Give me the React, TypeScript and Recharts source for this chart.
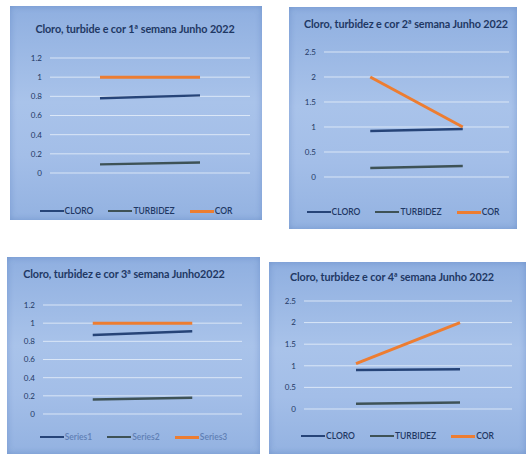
import React from 'react';
import { LineChart, Line, XAxis, YAxis, CartesianGrid } from 'recharts';

// two readings per week (start / end)
const points = ['A', 'B'];

const titles = [
  'Cloro, turbide e cor 1ª semana Junho 2022',
  'Cloro, turbidez e cor 2ª semana Junho 2022',
  'Cloro, turbidez e cor 3ª semana Junho2022',
  'Cloro, turbidez e cor 4ª semana Junho 2022',
];

const names = ['CLORO', 'TURBIDEZ', 'COR'];
const namesWeek3 = ['Series1', 'Series2', 'Series3'];

const cloro = [
  [0.78, 0.81],
  [0.92, 0.96],
  [0.87, 0.91],
  [0.9, 0.92],
];
const turbidez = [
  [0.09, 0.11],
  [0.18, 0.22],
  [0.16, 0.18],
  [0.12, 0.15],
];
const cor = [
  [1, 1],
  [2, 1],
  [1, 1],
  [1.05, 2],
];

const ticksSmall = [0, 0.2, 0.4, 0.6, 0.8, 1, 1.2];
const ticksLarge = [0, 0.5, 1, 1.5, 2, 2.5];

const colors = ['#264478', '#3e5256', '#ed7d31'];

const panels = [
  { x: 10, y: 6, w: 252, h: 214, left: 40, right: 12, top: 52, bottom: 167, titleY: 24, titleX: 125, legendY: 206, ticks: ticksSmall },
  { x: 289, y: 7, w: 228, h: 222, left: 35, right: 8, top: 45, bottom: 170, titleY: 18, titleX: 117, legendY: 206, ticks: ticksLarge },
  { x: 7, y: 257, w: 253, h: 197, left: 36, right: 18, top: 48, bottom: 157, titleY: 18, titleX: 117, legendY: 181, ticks: ticksSmall },
  { x: 269, y: 262, w: 257, h: 192, left: 35, right: 14, top: 39, bottom: 147, titleY: 16, titleX: 123, legendY: 175, ticks: ticksLarge },
];

const navy = '#1f3864';
const font = 'Lato, "Open Sans", sans-serif';

function Panel({ i }: { i: number }) {
  const p = panels[i];
  const labels = i === 2 ? namesWeek3 : names;
  const data = points.map((pt, k) => ({
    pt,
    s0: cloro[i][k],
    s1: turbidez[i][k],
    s2: cor[i][k],
  }));
  const plotW = p.w - p.left - p.right;
  const pad = plotW / 4;
  const top = p.ticks[p.ticks.length - 1];
  return (
    <div
      style={{
        position: 'absolute',
        left: p.x,
        top: p.y,
        width: p.w,
        height: p.h,
        background: 'linear-gradient(180deg, #8fafe0 0%, #a9c3ea 45%, #a3bee8 70%, #93b2e1 100%)',
        boxShadow: 'inset 0 0 6px rgba(60,100,170,0.35)',
        fontFamily: font,
        overflow: 'hidden',
      }}
    >
      <div
        style={{
          position: 'absolute',
          left: p.titleX - 130,
          width: 260,
          top: p.titleY - 8,
          textAlign: 'center',
          fontSize: 10.8,
          fontWeight: 700,
          color: navy,
          letterSpacing: -0.1,
          whiteSpace: 'nowrap',
        }}
      >
        {titles[i]}
      </div>
      <div style={{ position: 'absolute', left: 0, top: 0 }}>
        <LineChart
          width={p.w}
          height={p.bottom + 5}
          data={data}
          margin={{ top: p.top, right: p.right, left: 0, bottom: 5 }}
        >
          <CartesianGrid vertical={false} stroke="#e4edf9" strokeOpacity={0.85} />
          <XAxis dataKey="pt" hide padding={{ left: pad, right: pad }} />
          <YAxis
            width={p.left}
            domain={[0, top]}
            ticks={p.ticks}
            axisLine={false}
            tickLine={false}
            tickSize={0}
            tickMargin={8}
            interval={0}
            tick={{ fill: navy, fontSize: 8, fontFamily: font }}
          />
          {['s0', 's1', 's2'].map((k, j) => (
            <Line
              key={k}
              dataKey={k}
              name={labels[j]}
              stroke={colors[j]}
              strokeWidth={j === 2 ? 3 : 2.5}
              dot={false}
              isAnimationActive={false}
            />
          ))}
        </LineChart>
      </div>
      <div
        style={{
          position: 'absolute',
          left: 0,
          width: p.w,
          top: p.legendY - 6,
          display: 'flex',
          justifyContent: 'center',
          gap: 15,
          fontSize: 8.5,
          fontWeight: 600,
          color: navy,
        }}
      >
        {labels.map((n, j) => (
          <div key={n} style={{ display: 'flex', alignItems: 'center' }}>
            <span style={{ display: 'inline-block', width: 24, height: j === 2 ? 3 : 2.5, background: colors[j], marginRight: 1 }} />
            <span style={{ color: i === 2 ? '#5f7fb5' : navy }}>{n}</span>
          </div>
        ))}
      </div>
    </div>
  );
}

export default function App() {
  return (
    <div style={{ position: 'fixed', left: 0, top: 0, width: 527, height: 454, background: '#ffffff' }}>
      {panels.map((_, i) => (
        <Panel key={i} i={i} />
      ))}
    </div>
  );
}
